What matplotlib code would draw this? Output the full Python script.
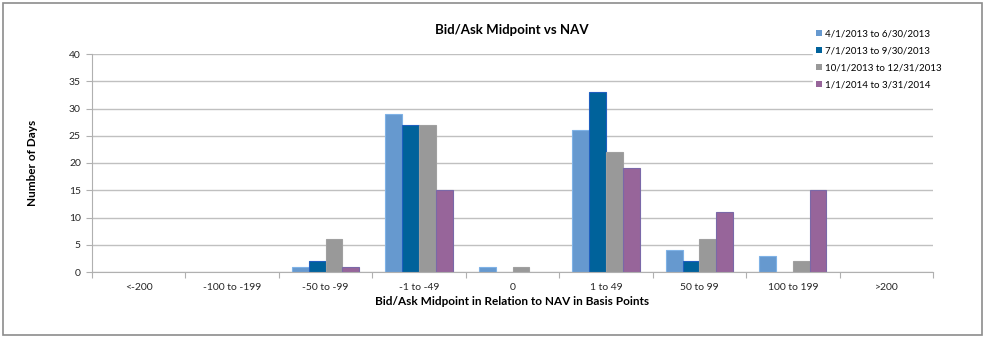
import matplotlib.pyplot as plt
import numpy as np
from matplotlib.patches import Rectangle

plt.rcParams['font.family'] = ['Lato', 'DejaVu Sans']

categories = ["<-200", "-100 to -199", "-50 to -99", "-1 to -49", "0",
              "1 to 49", "50 to 99", "100 to 199", ">200"]
series_names = ["4/1/2013 to 6/30/2013", "7/1/2013 to 9/30/2013",
                "10/1/2013 to 12/31/2013", "1/1/2014 to 3/31/2014"]
q2_2013 = [0, 0, 1, 29, 1, 26, 4, 3, 0]
q3_2013 = [0, 0, 2, 27, 0, 33, 2, 0, 0]
q4_2013 = [0, 0, 6, 27, 1, 22, 6, 2, 0]
q1_2014 = [0, 0, 1, 15, 0, 19, 11, 15, 0]

serie = [q2_2013, q3_2013, q4_2013, q1_2014]
colori = ["#6699CF", "#00629B", "#999999", "#97659A"]
bordi = ["#7FB2E6", "#1F5FBF", "#A0A0A0", "#7A68A8"]

fig = plt.figure(figsize=(9.85, 3.38), dpi=100)
ax = fig.add_axes([92/985, 1-272/338, 841/985, 218/338])

x = np.arange(len(categories))
larghezza = 0.18
for i, valori in enumerate(serie):
    spessori = [0.8 if v > 0 else 0 for v in valori]  # niente bordo per le barre a zero
    ax.bar(x + (i - 1.5) * larghezza, valori, larghezza, color=colori[i],
           edgecolor=bordi[i], linewidth=spessori, label=series_names[i], zorder=3)

ax.set_xlim(-0.5, len(categories) - 0.5)
ax.set_ylim(0, 40)
ax.set_yticks(range(0, 41, 5))
ax.yaxis.grid(True, color="#C0C0C0", linewidth=1, zorder=0)
ax.set_axisbelow(True)

# tick delle categorie sui bordi, etichette al centro
ax.set_xticks(np.arange(-0.5, len(categories), 1))
ax.set_xticklabels([])
ax.set_xticks(x, minor=True)
ax.set_xticklabels(categories, minor=True)
ax.tick_params(axis="x", which="major", length=4, color="#B0B0B0", direction="out")
ax.tick_params(axis="x", which="minor", length=0, pad=8, labelsize=7.5, labelcolor="#262626")
ax.tick_params(axis="y", length=4, color="#B0B0B0", labelsize=7.5, labelcolor="#262626", pad=4)

for lato in ["top", "right"]:
    ax.spines[lato].set_visible(False)
ax.spines["left"].set_color("#B0B0B0")
ax.spines["bottom"].set_color("#B0B0B0")
ax.spines["bottom"].set_zorder(4)

ax.set_xlabel("Bid/Ask Midpoint in Relation to NAV in Basis Points",
              fontsize=8.5, fontweight="bold", labelpad=3)
fig.text(33/985, 1-163/338, "Number of Days", rotation=90, fontsize=8.5,
         fontweight="bold", ha="center", va="center")
fig.text(512/985, 1-30/338, "Bid/Ask Midpoint vs NAV", fontsize=9.5,
         fontweight="bold", ha="center", va="center")

leg = fig.legend(loc="upper left", bbox_to_anchor=(808/985, 1-22/338),
                 fontsize=7, frameon=True, handlelength=0.6, handleheight=0.6,
                 handletextpad=0.4, labelspacing=0.8, borderpad=0.3)
leg.get_frame().set_edgecolor("white")
leg.get_frame().set_facecolor("white")
leg.get_frame().set_alpha(1)

fig.patches.append(Rectangle((3/985, 3/338), 979/985, 332/338, transform=fig.transFigure,
                             fill=False, edgecolor="#8C8C8C", linewidth=1.2))

plt.savefig("out.png", dpi=100)
